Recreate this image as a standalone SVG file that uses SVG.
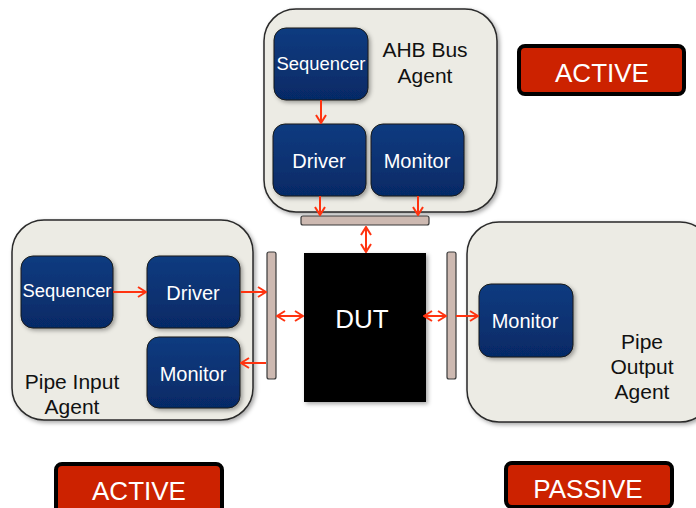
<svg xmlns="http://www.w3.org/2000/svg" width="696" height="508" viewBox="0 0 696 508">
<style>
.agent{fill:#ecebe4;stroke:#2a2a2a;stroke-width:1.5}
.blk{fill:url(#blue);stroke:#1a1a1a;stroke-width:1}
.bar{fill:#cdb9b1;stroke:#3a3a3a;stroke-width:1.2}
.wt{font-family:"Liberation Sans",Arial,sans-serif;fill:#ffffff;text-anchor:middle}
.bt{font-family:"Liberation Sans",Arial,sans-serif;fill:#111111;font-size:21px;text-anchor:middle}
.con{stroke:#ff3310;stroke-width:2;fill:none}
</style>
<defs>
<linearGradient id="blue" x1="0" y1="0" x2="0" y2="1">
<stop offset="0" stop-color="#0c3b80"/>
<stop offset="1" stop-color="#062a66"/>
</linearGradient>
<filter id="sh" x="-10%" y="-10%" width="130%" height="130%">
<feDropShadow dx="2" dy="2" stdDeviation="2" flood-color="#000" flood-opacity="0.35"/>
</filter>
<marker id="ah" viewBox="0 0 10 12" refX="9" refY="6" markerWidth="10" markerHeight="12" markerUnits="userSpaceOnUse" orient="auto-start-reverse">
<path d="M1,1 L9,6 L1,11" fill="none" stroke="#ff3310" stroke-width="2"/>
</marker>
</defs>

<g id="ahb-agent">
<rect class="agent" x="264" y="9" width="233" height="203" rx="32" filter="url(#sh)"/>
<text class="bt" x="425" y="57">AHB Bus</text>
<text class="bt" x="425" y="83">Agent</text>
</g>
<g id="ahb-sequencer">
<rect class="blk" x="274" y="28" width="94" height="72" rx="12" filter="url(#sh)"/>
<text class="wt" x="321" y="70" font-size="18" textLength="89" lengthAdjust="spacingAndGlyphs">Sequencer</text>
</g>
<g id="ahb-driver">
<rect class="blk" x="273" y="124" width="93" height="72" rx="12" filter="url(#sh)"/>
<text class="wt" x="319" y="168" font-size="20">Driver</text>
</g>
<g id="ahb-monitor">
<rect class="blk" x="371" y="124" width="93" height="72" rx="12" filter="url(#sh)"/>
<text class="wt" x="417" y="168" font-size="20">Monitor</text>
</g>
<g id="ahb-bus">
<rect class="bar" x="301" y="216" width="128" height="9" rx="2"/>
</g>

<g id="input-agent">
<rect class="agent" x="12" y="220" width="241" height="200" rx="32" filter="url(#sh)"/>
<text class="bt" x="72" y="389">Pipe Input</text>
<text class="bt" x="72" y="414">Agent</text>
</g>
<g id="input-sequencer">
<rect class="blk" x="21" y="256" width="92" height="72" rx="12" filter="url(#sh)"/>
<text class="wt" x="67" y="297" font-size="18" textLength="89" lengthAdjust="spacingAndGlyphs">Sequencer</text>
</g>
<g id="input-driver">
<rect class="blk" x="147" y="256" width="93" height="72" rx="12" filter="url(#sh)"/>
<text class="wt" x="193" y="300" font-size="20">Driver</text>
</g>
<g id="input-monitor">
<rect class="blk" x="147" y="337" width="93" height="71" rx="12" filter="url(#sh)"/>
<text class="wt" x="193" y="381" font-size="20">Monitor</text>
</g>
<g id="input-bus">
<rect class="bar" x="267" y="252" width="9" height="127" rx="2"/>
</g>

<g id="dut">
<rect x="304" y="253" width="122" height="149" fill="#000000" filter="url(#sh)"/>
<text class="wt" x="362" y="328" font-size="26">DUT</text>
</g>

<g id="output-bus">
<rect class="bar" x="447" y="252" width="9" height="127" rx="2"/>
</g>
<g id="output-agent">
<rect class="agent" x="467" y="222" width="245" height="200" rx="32" filter="url(#sh)"/>
<text class="bt" x="642" y="349">Pipe</text>
<text class="bt" x="642" y="374">Output</text>
<text class="bt" x="642" y="399">Agent</text>
</g>
<g id="output-monitor">
<rect class="blk" x="479" y="284" width="94" height="73" rx="12" filter="url(#sh)"/>
<text class="wt" x="525" y="328" font-size="20">Monitor</text>
</g>

<g id="active-top">
<rect x="519" y="46" width="165" height="48" rx="6" fill="#cc2200" stroke="#000" stroke-width="4"/>
<text class="wt" x="602" y="82" font-size="26">ACTIVE</text>
</g>
<g id="active-bottom">
<rect x="56" y="464" width="166" height="50" rx="6" fill="#cc2200" stroke="#000" stroke-width="4"/>
<text class="wt" x="139" y="500" font-size="26">ACTIVE</text>
</g>
<g id="passive">
<rect x="506" y="463" width="166" height="44" rx="6" fill="#cc2200" stroke="#000" stroke-width="4"/>
<text class="wt" x="588" y="498" font-size="26">PASSIVE</text>
</g>

<g id="connectors">
<line class="con" x1="321" y1="100" x2="321" y2="123" marker-end="url(#ah)"/>
<line class="con" x1="320" y1="196" x2="320" y2="215" marker-end="url(#ah)"/>
<line class="con" x1="418" y1="196" x2="418" y2="215" marker-end="url(#ah)"/>
<line class="con" x1="366" y1="227" x2="366" y2="252" marker-start="url(#ah)" marker-end="url(#ah)"/>
<line class="con" x1="113" y1="292" x2="146" y2="292" marker-end="url(#ah)"/>
<line class="con" x1="241" y1="292" x2="266" y2="292" marker-end="url(#ah)"/>
<line class="con" x1="266" y1="363" x2="241" y2="363" marker-end="url(#ah)"/>
<line class="con" x1="277" y1="316" x2="303" y2="316" marker-start="url(#ah)" marker-end="url(#ah)"/>
<line class="con" x1="424" y1="316" x2="446" y2="316" marker-start="url(#ah)" marker-end="url(#ah)"/>
<line class="con" x1="456" y1="316" x2="478" y2="316" marker-end="url(#ah)"/>
</g>
</svg>
